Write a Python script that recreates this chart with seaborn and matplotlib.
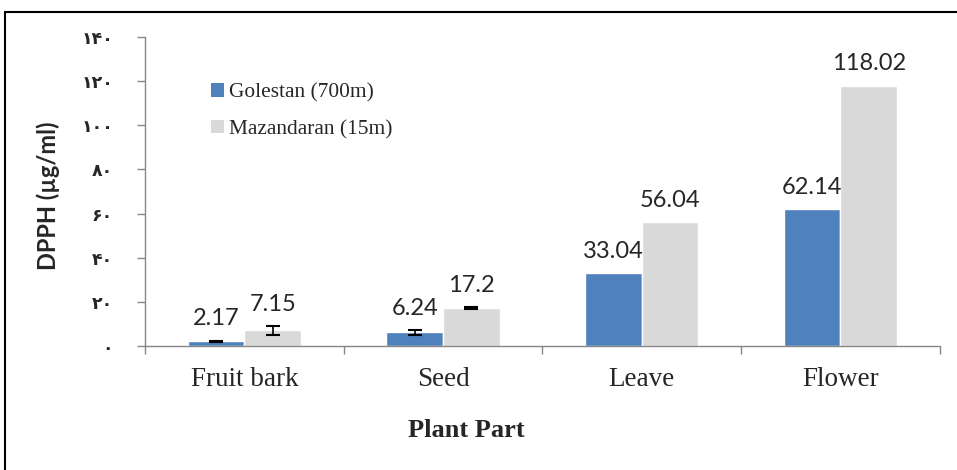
"""
DPPH by plant part, two sites
"""

# Dependencies
import numpy as np
import pandas as pd
import seaborn as sns
import matplotlib.pyplot as plt
from matplotlib.patches import Patch, Rectangle

# Data
parts = ['Fruit bark', 'Seed', 'Leave', 'Flower']
sites = ['Golestan (700m)', 'Mazandaran (15m)']
golestan = [2.17, 6.24, 33.04, 62.14]
mazandaran = [7.15, 17.2, 56.04, 118.02]
golestan_err = [0.3, 1.1, 0.0, 0.0]
mazandaran_err = [2.0, 0.3, 0.0, 0.0]
value_labels = [['2.17', '6.24', '33.04', '62.14'], ['7.15', '17.2', '56.04', '118.02']]
ytick_vals = [0, 20, 40, 60, 80, 100, 120, 140]
ytick_labels = ['۰', '۲۰', '۴۰', '۶۰', '۸۰', '۱۰۰', '۱۲۰', '۱۴۰']

df = pd.DataFrame({
    'part': parts * 2,
    'site': [sites[0]] * 4 + [sites[1]] * 4,
    'dpph': golestan + mazandaran,
})
errs = [golestan_err, mazandaran_err]
colors = ['#4F81BD', '#D9D9D9']

sns.set_style('white')

fig = plt.figure(figsize=(9.57, 4.70), dpi=100)
ax = fig.add_axes([0.1515, 0.2638, 0.8305, 0.6575])

sns.barplot(data=df, x='part', y='dpph', hue='site', order=parts, hue_order=sites,
            palette=colors, errorbar=None, width=0.57, saturation=1, legend=False, ax=ax)

# Error bars and value labels
bar_groups = list(ax.containers)
for i, cont in enumerate(bar_groups):
    for j, bar in enumerate(cont):
        cx = bar.get_x() + bar.get_width() / 2
        h = bar.get_height()
        e = errs[i][j]
        if e > 0:
            ax.errorbar(cx, h, yerr=e, fmt='none', ecolor='black', elinewidth=1.2,
                        capsize=5, capthick=1.5)
        ax.annotate(value_labels[i][j], (cx, h + e), xytext=(0, 8), textcoords='offset points',
                    ha='center', va='bottom', fontsize=17, family='Lato')

ax.set_ylim(0, 140)
ax.set_xlim(-0.5, 3.5)
ax.set_yticks(ytick_vals)
ax.set_yticklabels(ytick_labels, family=['DejaVu Sans'], fontweight='bold', fontsize=12.5)
ax.set_xticks(range(4))
ax.set_xticklabels(parts, family='Liberation Serif', fontsize=19.5)
ax.set_xticks(np.arange(-0.5, 4, 1), minor=True)
ax.tick_params(axis='x', which='major', length=0, pad=15)
ax.tick_params(axis='x', which='minor', length=6, color='#868686', width=1, direction='out')
ax.tick_params(axis='y', length=6, color='#868686', width=1, direction='out', pad=17)
ax.tick_params(bottom=True, which='minor')
ax.tick_params(left=True)

for s in ['top', 'right']:
    ax.spines[s].set_visible(False)
for s in ['left', 'bottom']:
    ax.spines[s].set_color('#868686')
    ax.spines[s].set_linewidth(1)

ax.set_ylabel('DPPH (µg/ml)', family='Lato', fontweight='bold', fontsize=17, va='center')
ax.yaxis.set_label_coords(-0.122, 0.485)
ax.set_xlabel('Plant Part', family='Liberation Serif', fontweight='bold', fontsize=19, va='center')
ax.xaxis.set_label_coords(0.404, -0.275)

handles = [Patch(facecolor=c, edgecolor='none') for c in colors]
ax.legend(handles, sites, loc='upper left', bbox_to_anchor=(0.0585, 0.912), frameon=False,
          prop={'family': 'Liberation Serif', 'size': 15.4}, handlelength=0.6, handleheight=0.6,
          handletextpad=0.25, labelspacing=0.8)

# Outer frame (left and top edges only visible)
fig.patches.append(Rectangle((5 / 957, -0.1), 1.1, 1.1 - 12 / 470, transform=fig.transFigure,
                             fill=False, edgecolor='black', linewidth=1.5))

fig.savefig('out.png', dpi=100)
